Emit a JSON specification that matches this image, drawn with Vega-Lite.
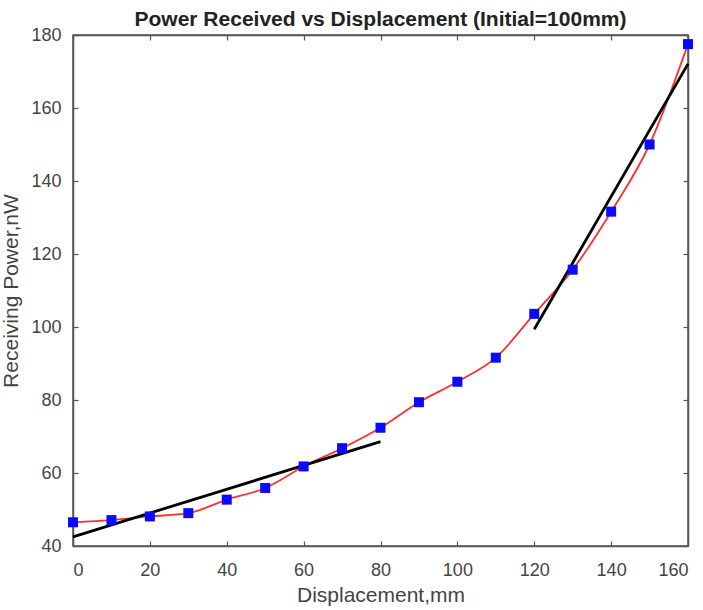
{
  "$schema": "https://vega.github.io/schema/vega-lite/v6.json",
  "width": 615,
  "height": 511,
  "autosize": "none",
  "padding": {"left": 73, "top": 35, "right": 15, "bottom": 64},
  "background": "white",
  "title": {"text": "Power Received vs Displacement (Initial=100mm)", "font": "Liberation Sans", "fontSize": 21, "fontWeight": "bold", "color": "#222", "offset": -4},
  "config": {
    "view": {"stroke": "#555", "strokeWidth": 1.5},
    "axis": {"grid": false, "domainColor": "#555", "tickColor": "#555", "domainWidth": 1.5, "tickWidth": 1.2, "labelFont": "Liberation Sans", "titleFont": "Liberation Sans", "labelFontSize": 18, "titleFontSize": 21, "labelColor": "#444", "titleColor": "#444", "titleFontWeight": "normal", "tickSize": -5}
  },
  "datasets": {
    "pts": [
      {"d": 0, "p": 46.5}, {"d": 10, "p": 47.1}, {"d": 20, "p": 48.1}, {"d": 30, "p": 49.0},
      {"d": 40, "p": 52.7}, {"d": 50, "p": 55.9}, {"d": 60, "p": 61.8}, {"d": 70, "p": 66.8},
      {"d": 80, "p": 72.4}, {"d": 90, "p": 79.4}, {"d": 100, "p": 85.0}, {"d": 110, "p": 91.6},
      {"d": 120, "p": 103.6}, {"d": 130, "p": 115.7}, {"d": 140, "p": 131.6}, {"d": 150, "p": 150.0},
      {"d": 160, "p": 177.5}
    ],
    "fits": [
      {"seg": "low", "d": 0, "p": 42.5}, {"seg": "low", "d": 80, "p": 68.6},
      {"seg": "high", "d": 120, "p": 99.4}, {"seg": "high", "d": 160, "p": 172.1}
    ]
  },
  "layer": [
    {
      "data": {"name": "pts"},
      "mark": {"type": "line", "interpolate": "monotone", "color": "#ff3030", "strokeWidth": 1.8},
      "encoding": {
        "x": {"field": "d", "type": "quantitative", "scale": {"domain": [0, 160], "nice": false}, "axis": {"values": [0,20,40,60,80,100,120,140,160], "title": "Displacement,mm", "labelPadding": 20, "titlePadding": 5}},
        "y": {"field": "p", "type": "quantitative", "scale": {"domain": [40, 180], "nice": false}, "axis": {"values": [40,60,80,100,120,140,160,180], "title": "Receiving Power,nW", "labelPadding": 17, "titlePadding": 9}}
      }
    },
    {
      "data": {"name": "fits"},
      "mark": {"type": "line", "color": "#000", "strokeWidth": 2.8},
      "encoding": {
        "x": {"field": "d", "type": "quantitative", "scale": {"domain": [0, 160], "nice": false}, "axis": {"orient": "top", "values": [0,20,40,60,80,100,120,140,160], "labels": false, "title": null}},
        "y": {"field": "p", "type": "quantitative", "scale": {"domain": [40, 180], "nice": false}, "axis": {"orient": "right", "values": [40,60,80,100,120,140,160,180], "labels": false, "title": null}},
        "detail": {"field": "seg"}
      }
    },
    {
      "data": {"name": "pts"},
      "mark": {"type": "point", "shape": "square", "filled": true, "color": "#0a0aff", "size": 100, "opacity": 1},
      "encoding": {
        "x": {"field": "d", "type": "quantitative", "axis": null},
        "y": {"field": "p", "type": "quantitative", "axis": null}
      }
    }
  ],
  "resolve": {"axis": {"x": "independent", "y": "independent"}}
}
